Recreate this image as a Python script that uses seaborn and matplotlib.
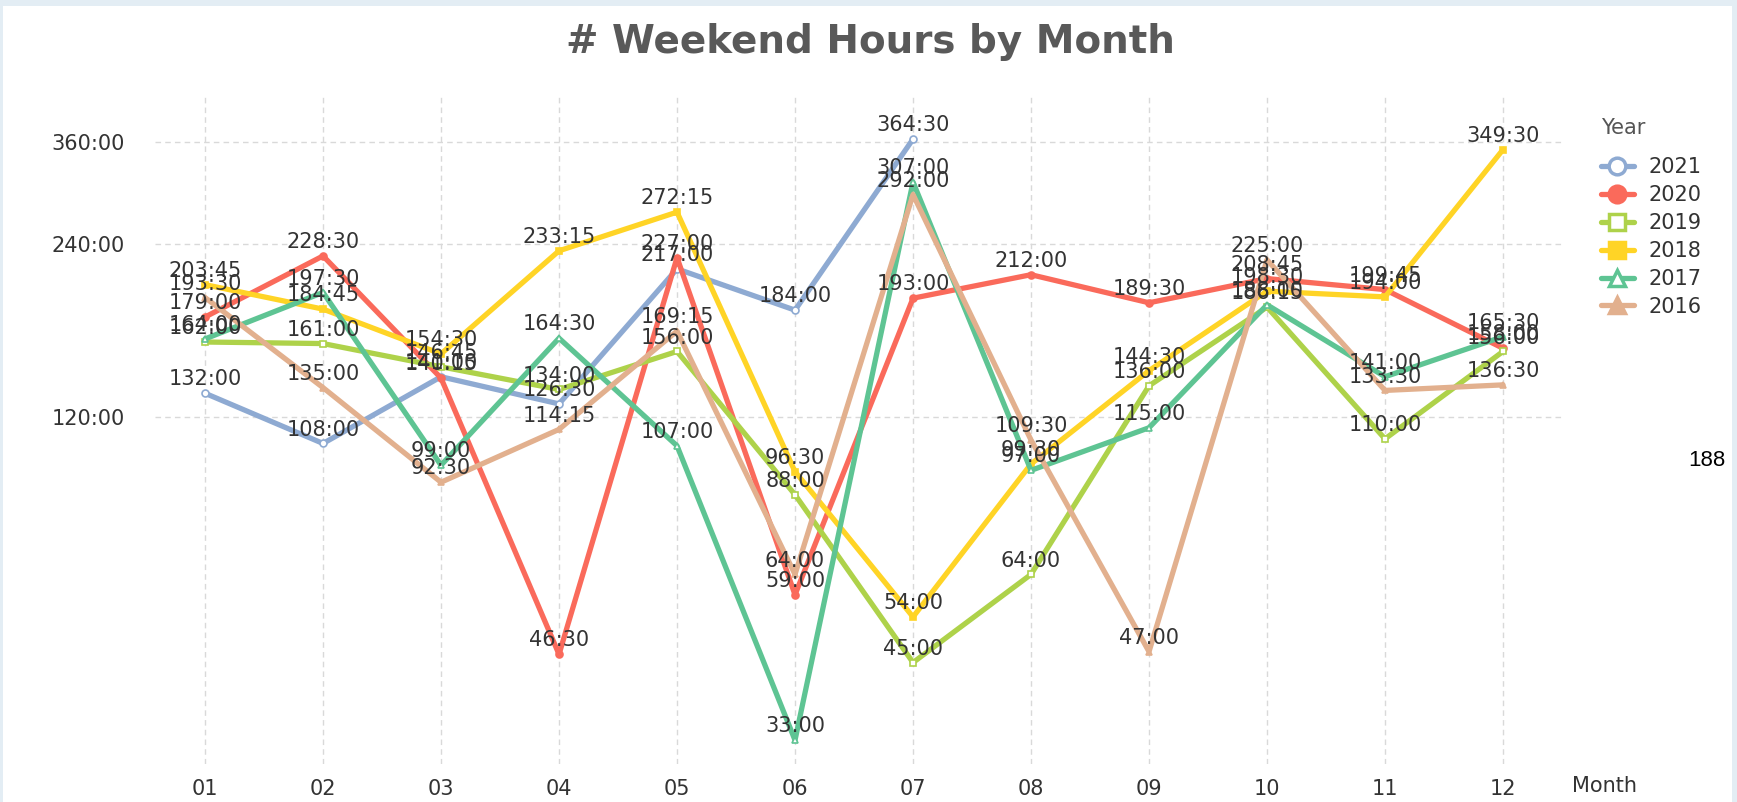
import numpy as np
import pandas as pd
import seaborn as sns
import matplotlib.pyplot as plt
from matplotlib.lines import Line2D
from matplotlib.patches import Rectangle

# Month categories and weekend hours per year (decimal hours)
months = ['01', '02', '03', '04', '05', '06', '07', '08', '09', '10', '11', '12']
years = ['2021', '2020', '2019', '2018', '2017', '2016']
h2021 = [132, 108, 141, 126.5, 217, 184, 364.5, None, None, None, None, None]
h2020 = [179, 228.5, 140.25, 46.5, 227, 59, 193, 212, 189.5, 208.75, 199.75, 158]
h2019 = [162, 161, 146.75, 134, 156, 88, 45, 64, 136, 186.25, 110, 156]
h2018 = [203.75, 184.75, 154.5, 233.25, 272.25, 96.5, 54, 99.5, 144.5, 198.5, 194, 349.5]
h2017 = [164, 197.5, 99, 164.5, 107, 33, 307, 97, 115, 188, 141, 165.5]
h2016 = [193.5, 135, 92.5, 114.25, 169.25, 64, 292, 109.5, 47, 225, 133.5, 136.5]
yticks = [120, 240, 360]

series = dict(zip(years, [h2021, h2020, h2019, h2018, h2017, h2016]))
colors = {'2021': '#8eaad2', '2020': '#fa6a5b', '2019': '#aed24a',
          '2018': '#ffd426', '2017': '#5ec493', '2016': '#e2b08e'}
markers = {'2021': 'o', '2020': 'o', '2019': 's', '2018': 's', '2017': '^', '2016': '^'}
hollow = {'2021', '2019', '2017'}

rows = []
for y in years:
    for i, v in enumerate(series[y]):
        if v is not None:
            rows.append({'Year': y, 'Month': i + 1, 'Hours': v})
df = pd.DataFrame(rows)


def hhmm(h):
    hrs = int(h)
    mins = int(round((h - hrs) * 60))
    return f"{hrs}:{mins:02d}"


sns.set_style('white')
plt.rcParams['font.family'] = ['DejaVu Sans']

fig = plt.figure(figsize=(17.37, 8.02), dpi=100)
fig.patch.set_facecolor('#e3edf4')
fig.patches.append(Rectangle((3 / 1737, 0), 1729 / 1737, 796 / 802, transform=fig.transFigure,
                             facecolor='white', edgecolor='none', zorder=-5))
ax = fig.add_axes([155 / 1737, 1 - 764 / 802, (1562 - 155) / 1737, (764 - 96) / 802])
ax.set_facecolor('none')

for y in years:
    d = df[df['Year'] == y]
    sns.lineplot(data=d, x='Month', y='Hours', ax=ax, color=colors[y], lw=3.8,
                 marker=markers[y], markersize=5,
                 markerfacecolor='white' if y in hollow else colors[y],
                 markeredgecolor=colors[y], markeredgewidth=1.2, legend=False)
    for _, r in d.iterrows():
        ax.annotate(hhmm(r['Hours']), (r['Month'], r['Hours']), xytext=(0, 10),
                    textcoords='offset points', ha='center', va='center',
                    fontsize=15, color='#333333', zorder=5)

ax.set_yscale('log')
ax.set_ylim(30, 433)
ax.set_xlim(0.576, 12.5)
ax.set_yticks(yticks)
ax.set_yticklabels([hhmm(t) for t in yticks])
ax.yaxis.set_minor_locator(plt.NullLocator())
ax.set_xticks(range(1, 13))
ax.set_xticklabels(months)
ax.tick_params(axis='both', length=0, labelsize=15, labelcolor='#333333')
ax.tick_params(axis='y', pad=22)
ax.tick_params(axis='x', pad=11)
ax.set_xlabel('')
ax.set_ylabel('')
ax.grid(True, which='major', axis='both', linestyle=(0, (4, 3)), color='#d9d9d9', lw=1)
ax.set_axisbelow(True)
for s in ax.spines.values():
    s.set_visible(False)

# legend with larger markers
handles = [Line2D([0], [0], color=colors[y], lw=3.8, marker=markers[y], markersize=12,
                  markerfacecolor='white' if y in hollow else colors[y],
                  markeredgecolor=colors[y], markeredgewidth=2.5) for y in years]
leg = ax.legend(handles, years, title='Year', loc='upper left',
                bbox_to_anchor=(1582 / 1737, 1 - 99 / 802), bbox_transform=fig.transFigure,
                frameon=False, alignment='left', fontsize=15, title_fontsize=15,
                handlelength=1.6, labelspacing=0.38, handletextpad=0.7)
leg._legend_box.sep = 14
for t in leg.get_texts():
    t.set_color('#333333')
leg.get_title().set_color('#555555')

fig.text(870 / 1737, 1 - 42 / 802, '# Weekend Hours by Month', ha='center', va='center',
         fontsize=28, fontweight='bold', color='#595959')
fig.text(1604 / 1737, 1 - 786 / 802, 'Month', ha='center', va='center',
         fontsize=15, color='#333333')
fig.text(1707 / 1737, 1 - 460 / 802, '188', ha='center', va='center',
         fontsize=16, color='black', family='Liberation Sans')

fig.savefig('out.png', dpi=100, facecolor=fig.get_facecolor())
